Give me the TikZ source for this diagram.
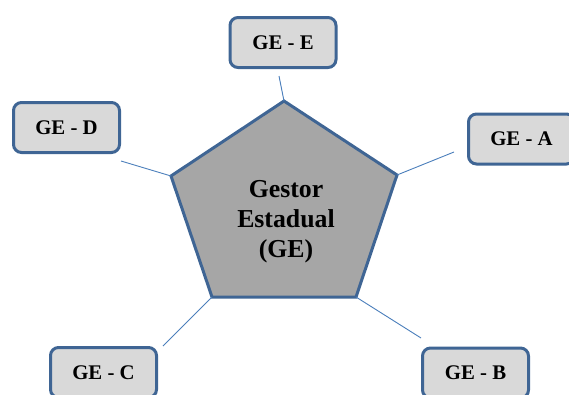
\documentclass[tikz,border=0pt]{standalone}
\usepackage{fontspec}
\setmainfont{Liberation Serif}
\definecolor{edgeblue}{HTML}{3F6594}
\definecolor{linkblue}{HTML}{4A7EBB}
\definecolor{boxfill}{HTML}{D9D9D9}
\definecolor{coregray}{HTML}{A6A6A6}
\begin{document}
\begin{tikzpicture}[x=1pt,y=-1pt,
  unitbox/.style={draw=edgeblue,line width=3pt,fill=boxfill,rounded corners=8pt,
    minimum width=106pt,minimum height=50pt,inner sep=0pt,
    font=\fontsize{20.8}{24}\selectfont\bfseries},
  link/.style={draw=linkblue,line width=0.9pt}]
\useasboundingbox (0,0) rectangle (569,394);

% central pentagon
\coordinate (pT)  at (284,101);
\coordinate (pR)  at (397,175);
\coordinate (pBR) at (356,297);
\coordinate (pBL) at (212,297);
\coordinate (pL)  at (171,176);
\draw[draw=edgeblue,line width=3pt,fill=coregray,line join=miter]
  (pT) -- (pR) -- (pBR) -- (pBL) -- (pL) -- cycle;
\node[align=center,font=\fontsize{25.8}{30}\selectfont\bfseries] (core) at (286,222)
  {Gestor\\Estadual\\(GE)};

% surrounding units
\node[unitbox] (ge) at (283,42.5) {GE - E};
\node[unitbox] (gd) at (66.5,127.5) {GE - D};
\node[unitbox] (ga) at (521.5,139) {GE - A};
\node[unitbox] (gc) at (103.5,372.5) {GE - C};
\node[unitbox] (gb) at (475.5,373) {GE - B};

% free ends of the links, just short of each unit
\coordinate (eE) at (279,76);
\coordinate (eD) at (121,161);
\coordinate (eA) at (454,152);
\coordinate (eC) at (163,346);
\coordinate (eB) at (421,338);

\draw[link] (pT) -- (eE);
\draw[link] (pL) -- (eD);
\draw[link] (pR) -- (eA);
\draw[link] (pBL) -- (eC);
\draw[link] (pBR) -- (eB);
\end{tikzpicture}
\end{document}
